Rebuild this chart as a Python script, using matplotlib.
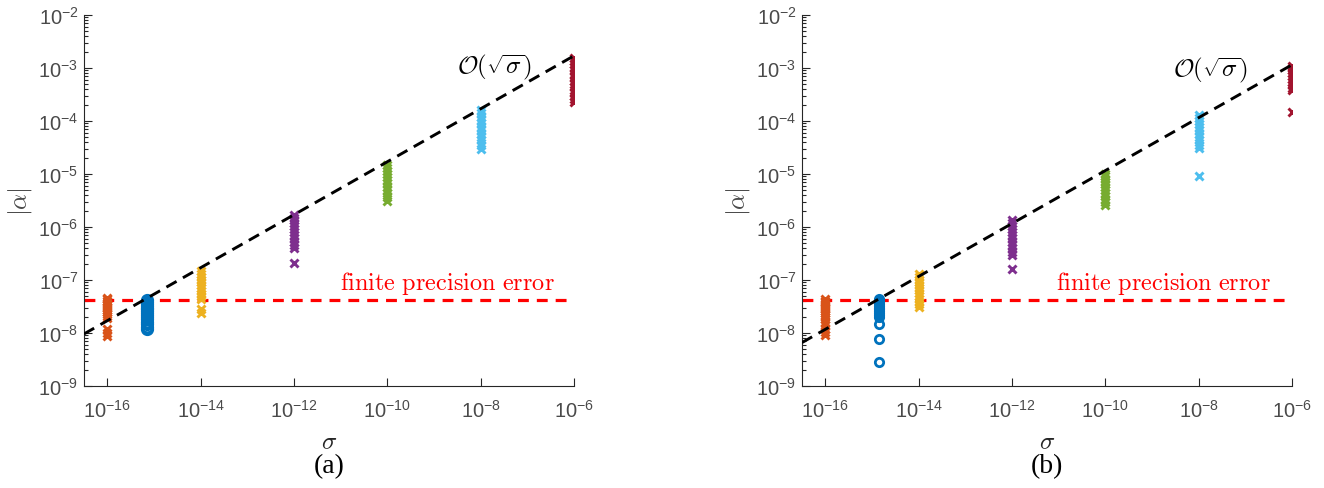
import numpy as np
import matplotlib
matplotlib.use("Agg")
import matplotlib.pyplot as plt
from matplotlib.ticker import LogLocator, NullLocator, FuncFormatter

plt.rcParams['mathtext.fontset'] = 'custom'
plt.rcParams['mathtext.rm'] = 'Liberation Sans'
plt.rcParams['mathtext.it'] = 'Liberation Sans:italic'
plt.rcParams['font.family'] = 'Liberation Sans'

# ---------------- data ----------------
colors = ['#D95319', '#0072BD', '#EDB120', '#7E2F8E', '#77AC30', '#4DBEEE', '#A2142F']
markers = ['x', 'o', 'x', 'x', 'x', 'x', 'x']

sigma_a = [1e-16, 7.1e-16, 1e-14, 1e-12, 1e-10, 1e-8, 1e-6]
sigma_b = [1e-16, 1.4e-15, 1e-14, 1e-12, 1e-10, 1e-8, 1e-6]

a_orange = [4.6e-8, 4.3e-8, 4.0e-8, 3.7e-8, 3.4e-8, 3.1e-8, 2.9e-8, 2.7e-8, 2.5e-8, 2.3e-8, 2.1e-8, 1.9e-8, 1.2e-8, 1.0e-8, 8.8e-9]
a_blue = [4.2e-8, 3.9e-8, 3.6e-8, 3.3e-8, 3.0e-8, 2.8e-8, 2.6e-8, 2.4e-8, 2.2e-8, 2.0e-8, 1.8e-8, 1.6e-8, 1.45e-8, 1.3e-8, 1.2e-8]
a_yellow = [1.45e-7, 1.3e-7, 1.15e-7, 1.0e-7, 9e-8, 8e-8, 7e-8, 6.2e-8, 5.5e-8, 4.9e-8, 4.4e-8, 2.8e-8, 2.4e-8]
a_purple = [1.7e-6, 1.5e-6, 1.35e-6, 1.2e-6, 1.05e-6, 9.2e-7, 8e-7, 7e-7, 6.1e-7, 5.3e-7, 4.6e-7, 4.0e-7, 2.1e-7]
a_green = [1.5e-5, 1.3e-5, 1.15e-5, 1.0e-5, 8.8e-6, 7.7e-6, 6.7e-6, 5.8e-6, 5.0e-6, 4.3e-6, 3.7e-6, 3.1e-6]
a_lblue = [1.6e-4, 1.4e-4, 1.2e-4, 1.05e-4, 9e-5, 7.8e-5, 6.7e-5, 5.8e-5, 5e-5, 4.3e-5, 3.6e-5, 3.0e-5]
a_red = [1.55e-3, 1.35e-3, 1.2e-3, 1.05e-3, 9e-4, 7.8e-4, 6.7e-4, 5.8e-4, 5e-4, 4.3e-4, 3.6e-4, 3.0e-4, 2.6e-4, 2.3e-4]

b_orange = [4.4e-8, 4.1e-8, 3.8e-8, 3.5e-8, 3.2e-8, 3.0e-8, 2.8e-8, 2.6e-8, 2.4e-8, 2.2e-8, 2.0e-8, 1.8e-8, 1.6e-8, 1.4e-8, 1.2e-8, 1.05e-8, 9e-9]
b_blue = [4.4e-8, 4.1e-8, 3.8e-8, 3.5e-8, 3.2e-8, 3.0e-8, 2.8e-8, 2.6e-8, 2.4e-8, 2.2e-8, 2.0e-8, 1.5e-8, 7.7e-9, 2.8e-9]
b_yellow = [1.3e-7, 1.15e-7, 1.0e-7, 9e-8, 8e-8, 7.2e-8, 6.4e-8, 5.7e-8, 5e-8, 4.4e-8, 3.9e-8, 3.5e-8, 3.1e-8]
b_purple = [1.35e-6, 1.2e-6, 1.05e-6, 9.2e-7, 8e-7, 7e-7, 6.1e-7, 5.3e-7, 4.6e-7, 4e-7, 3.4e-7, 2.9e-7, 1.6e-7]
b_green = [1.0e-5, 9e-6, 8e-6, 7.2e-6, 6.4e-6, 5.7e-6, 5e-6, 4.4e-6, 3.8e-6, 3.3e-6, 2.9e-6, 2.6e-6]
b_lblue = [1.3e-4, 1.15e-4, 1.0e-4, 8.8e-5, 7.7e-5, 6.7e-5, 5.8e-5, 5.0e-5, 4.3e-5, 3.6e-5, 3.1e-5, 9.1e-6]
b_red = [1.1e-3, 1.0e-3, 9e-4, 8e-4, 7e-4, 6.2e-4, 5.5e-4, 4.8e-4, 4.2e-4, 3.8e-4, 1.5e-4]

groups_a = [a_orange, a_blue, a_yellow, a_purple, a_green, a_lblue, a_red]
groups_b = [b_orange, b_blue, b_yellow, b_purple, b_green, b_lblue, b_red]

trend_x = [3.16e-17, 1e-6]
trend_a = [9.6e-9, 1.7e-3]
trend_b = [6.6e-9, 1.15e-3]
finite_err = 4.2e-8

xticks = [1e-16, 1e-14, 1e-12, 1e-10, 1e-8, 1e-6]
yticks = [1e-9, 1e-8, 1e-7, 1e-6, 1e-5, 1e-4, 1e-3, 1e-2]

axcol = '#262626'
labcol = '#4a4a4a'

fig = plt.figure(figsize=(13.24, 4.89), dpi=100)
ax_a = fig.add_axes([84/1324, 1 - 387/489, 490/1324, 371/489])
ax_b = fig.add_axes([802/1324, 1 - 387/489, 490/1324, 371/489])

def fmt(v, pos):
    e = int(round(np.log10(v)))
    return r'$\mathregular{10^{%d}}$' % e

def draw(ax, sigmas, groups, trend_y, otxt, ftxt, cap, circ_ms):
    ax.set_xscale('log')
    ax.set_yscale('log')
    for s, vals, c, m in zip(sigmas, groups, colors, markers):
        xs = [s] * len(vals)
        if m == 'o':
            ax.plot(xs, vals, linestyle='none', marker='o', ms=circ_ms, mew=2.0,
                    mfc='none', mec=c, zorder=3)
        else:
            ax.plot(xs, vals, linestyle='none', marker='x', ms=6, mew=2.1,
                    color=c, zorder=3)
    ax.plot(trend_x, trend_y, color='k', lw=2.1, dashes=(4.0, 2.5), zorder=4)
    ax.plot(trend_x, [finite_err, finite_err], color='#FF0000', lw=2.3,
            dashes=(3.4, 2.5), zorder=2)
    ax.set_xlim(10**-16.5, 1e-6)
    ax.set_ylim(1e-9, 1e-2)
    for sp in ['top', 'right']:
        ax.spines[sp].set_visible(False)
    for sp in ['left', 'bottom']:
        ax.spines[sp].set_color(axcol)
        ax.spines[sp].set_linewidth(0.8)
    ax.set_xticks(xticks)
    ax.xaxis.set_minor_locator(NullLocator())
    ax.set_yticks(yticks)
    ax.yaxis.set_minor_locator(LogLocator(base=10, subs=np.arange(2, 10), numticks=20))
    ax.xaxis.set_major_formatter(FuncFormatter(fmt))
    ax.yaxis.set_major_formatter(FuncFormatter(fmt))
    ax.tick_params(which='both', direction='in', colors=axcol, labelcolor=labcol,
                   labelsize=14.5, width=0.8)
    ax.tick_params(which='major', length=6)
    ax.tick_params(which='minor', length=3)
    ax.tick_params(axis='x', pad=9)
    ax.tick_params(axis='y', pad=4)
    ax.text(otxt[0], otxt[1], r'$\mathcal{O}(\sqrt{\sigma})$', ha='right', va='center',
            fontsize=18, math_fontfamily='cm', color='k')
    ax.text(ftxt[0], ftxt[1], r'$\mathrm{finite\ precision\ error}$', ha='right', va='center',
            fontsize=17.5, math_fontfamily='cm', color='#FF0000')
    ax.text(0.5, -0.148, r'$\sigma$', transform=ax.transAxes, ha='center', va='center',
            fontsize=18, math_fontfamily='cm', color=axcol)
    ax.text(-0.131, 0.5, r'$|\alpha|$', transform=ax.transAxes, ha='center', va='center',
            rotation=90, fontsize=18, math_fontfamily='cm', color=labcol)
    ax.text(0.5, -0.215, cap, transform=ax.transAxes, ha='center', va='center',
            fontsize=20, family='Liberation Serif', color='k')

draw(ax_a, sigma_a, groups_a, trend_a, (1.26e-7, 1.1e-3), (3.9e-7, 9.1e-8), '(a)', 7.5)
draw(ax_b, sigma_b, groups_b, trend_b, (1.15e-7, 9.5e-4), (3.5e-7, 9.1e-8), '(b)', 6.0)

fig.savefig('out.png', dpi=100)
